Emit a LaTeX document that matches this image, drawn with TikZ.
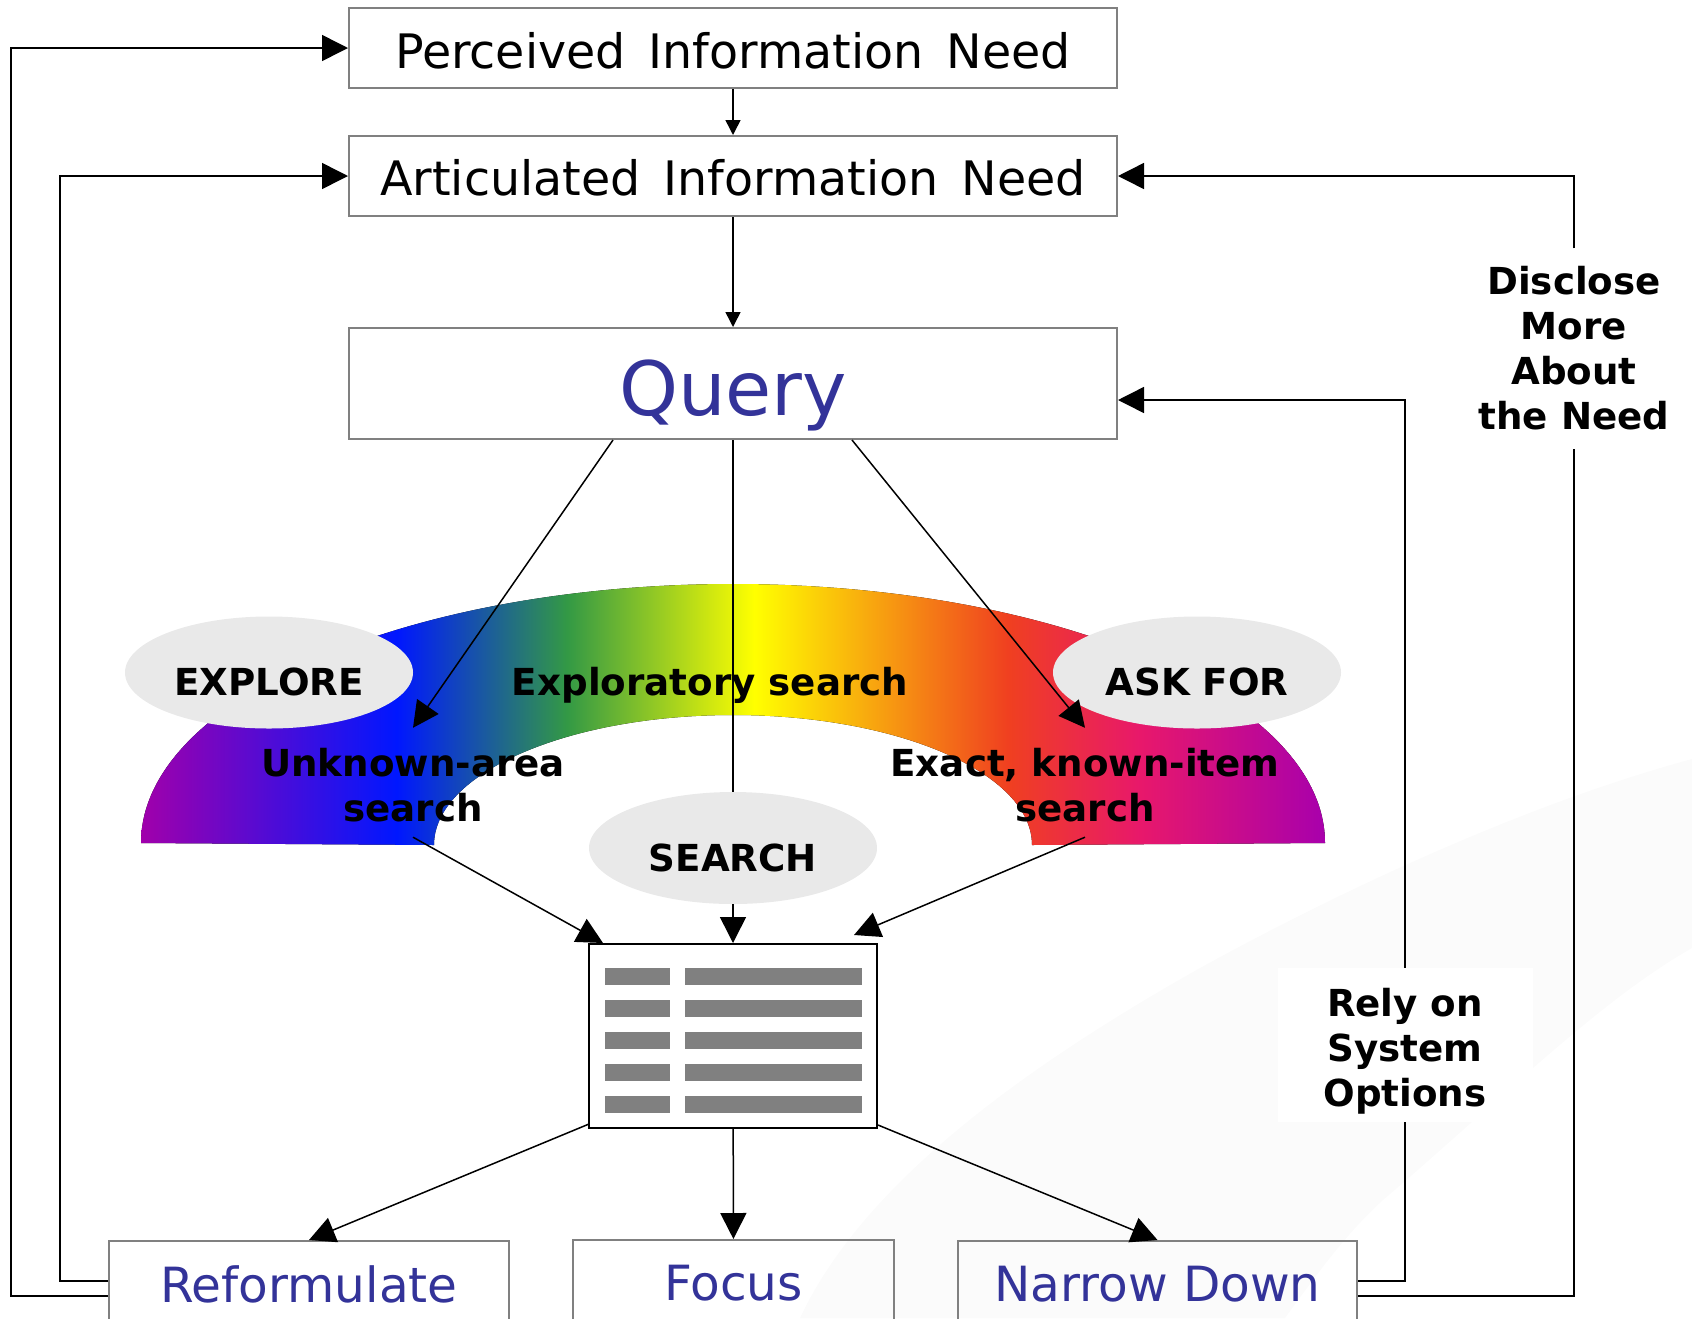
\documentclass[tikz,border=0pt]{standalone}
\usepackage{fontspec}
\setmainfont{DejaVu Sans}
\usetikzlibrary{arrows.meta,calc,shapes.geometric}
\definecolor{queryblue}{HTML}{333399}
\definecolor{boxgrey}{HTML}{808080}
\definecolor{ovalgrey}{HTML}{E9E9E9}
\definecolor{swooshgrey}{HTML}{FBFBFB}
\pgfdeclarehorizontalshading{rainbow}{100bp}{
	rgb(0bp)=(0.63,0,0.67);
	rgb(25bp)=(0.63,0,0.67);
	rgb(35.8bp)=(0,0.09,1);
	rgb(43bp)=(0.2,0.6,0.27);
	rgb(50.9bp)=(1,1,0);
	rgb(61.6bp)=(0.94,0.25,0.125);
	rgb(67.2bp)=(0.91,0.094,0.42);
	rgb(75bp)=(0.66,0,0.675);
	rgb(100bp)=(0.66,0,0.675)}
\tikzset{
	labeltext/.style={font=\fontsize{37.2}{45}\selectfont\bfseries, align=center, inner sep=0pt},
	stagebox/.style={draw=boxgrey, line width=2pt, inner sep=0pt, font=\fontsize{47.5}{55}\selectfont},
	actionbox/.style={stagebox, text=queryblue, minimum height=86pt, font=\fontsize{48.5}{55}\selectfont},
	ovalnode/.style={ellipse, fill=ovalgrey, inner sep=0pt, minimum width=288pt, minimum height=112pt,
		text height=46pt, text depth=0pt, labeltext},
	smallarrow/.style={line width=1.5pt, -{Triangle[length=15pt,width=15pt]}},
	bigarrow/.style={line width=1.5pt, -{Triangle[length=26pt,width=26pt]}},
}

\begin{document}
\begin{tikzpicture}[x=1pt, y=-1pt]
		%%%%% PAGE %%%%%
		\useasboundingbox (0, 0) rectangle (1692, 1318);
		\clip (0, 0) rectangle (1692, 1318);
		
		\fill[swooshgrey] (800, 1318) .. controls (860, 1190) and (1010, 1075) .. (1200, 968)
			.. controls (1360, 880) and (1540, 800) .. (1692, 759)
			-- (1692, 948) .. controls (1600, 1000) and (1500, 1100) .. (1383, 1200)
			.. controls (1345, 1235) and (1320, 1270) .. (1285, 1318) -- cycle;
		
		%%%%% BOXES %%%%%
		\node[stagebox, minimum width=768pt, minimum height=80pt, text height=40pt, text depth=0pt] (perceived) at (733, 48) {Perceived\, Information\, Need};
		\node[stagebox, minimum width=768pt, minimum height=80pt, text height=38pt, text depth=0pt] (articulated) at (733, 176) {Articulated\, Information\, Need};
		\node[stagebox, minimum width=768pt, minimum height=111pt, text=queryblue, font=\fontsize{75}{86}\selectfont,
			text height=70pt, text depth=7pt] (query) at (733, 383.5) {Query};
		
		\node[actionbox, minimum width=400pt] (reformulate) at (309, 1284) {Reformulate};
		\node[actionbox, minimum width=321pt] (focus) at (733.5, 1283) {Focus};
		\node[actionbox, minimum width=399pt] (narrow) at (1157.5, 1284) {Narrow Down};
		
		%%%%% ARCH %%%%%
		\fill[shading=rainbow] (141, 843) arc (180:360:592 and 259) -- (1032, 845) arc (360:180:299 and 130) -- cycle;
		
		\node[ovalnode] (explore) at (269, 672.5) {EXPLORE};
		\node[ovalnode] (askfor) at (1197, 672.5) {ASK FOR};
		\node[ovalnode] (search) at (733, 848) {SEARCH};
		
		\node[labeltext] (exploratory) at (710, 685) {Exploratory search};
		\node[labeltext, minimum height=109pt] (unknown) at (413, 782.5) {\rule{0pt}{33pt}Unknown-area\\search};
		\node[labeltext, minimum height=109pt] (exact) at (1085, 782.5) {\rule{0pt}{33pt}Exact, known-item\\search};
		
		%%%%% RESULTS %%%%%
		\node[draw, line width=2pt, fill=white, minimum width=288pt, minimum height=184pt, inner sep=0pt] (results) at (733, 1036) {};
		\foreach \rowy in {968, 1000, 1032, 1064, 1096} {
			\fill[boxgrey] (605, \rowy) rectangle (670, \rowy + 17);
			\fill[boxgrey] (685, \rowy) rectangle (862, \rowy + 17);
		}
		
		%%%%% SIDE LABELS %%%%%
		\node[labeltext, fill=white, minimum width=255pt, minimum height=154pt] (relyon) at (1405, 1045) {\rule{0pt}{41pt}Rely on\\System\\Options};
		\node[labeltext, fill=white, minimum height=200pt] (disclose) at (1574, 348.5) {Disclose\\More\\About\\the Need};
		
		%%%%% ARROWS %%%%%
		\draw[smallarrow] (perceived) -- (articulated);
		\draw[smallarrow] (articulated) -- (query);
		\draw[line width=1.5pt] (query) -- (search);
		\draw[bigarrow] (search) -- (results);
		
		\draw[bigarrow] ($(query.south)+(-120, 0)$) -- (unknown.north);
		\draw[bigarrow] ($(query.south)+(119, 0)$) -- (exact.north);
		\draw[bigarrow] (unknown.south) -- ($(results.north west)+(15, 0)$);
		\draw[bigarrow] (exact.south) -- ($(results.north east)+(-24, -8)$);
		
		\draw[bigarrow] ($(results.south west)+(1, -5)$) -- (reformulate.north);
		\draw[bigarrow] (results) -- (focus);
		\draw[bigarrow] ($(results.south east)+(0, -4)$) -- (narrow.north);
		
		\draw[bigarrow] ($(reformulate.west)+(0, 12)$) -- ++(-97, 0) |- (perceived.west);
		\draw[bigarrow] ($(reformulate.west)+(0, -3)$) -- ++(-48, 0) |- (articulated.west);
		
		\draw[line width=1.5pt] ($(narrow.east)+(0, -3)$) -| (relyon.south);
		\draw[bigarrow] (relyon.north) |- ($(query.east)+(0, 16.5)$);
		\draw[line width=1.5pt] ($(narrow.east)+(0, 12)$) -| (disclose.south);
		\draw[bigarrow] (disclose.north) |- (articulated.east);
		%%%%% END %%%%%
	\end{tikzpicture}
\end{document}
